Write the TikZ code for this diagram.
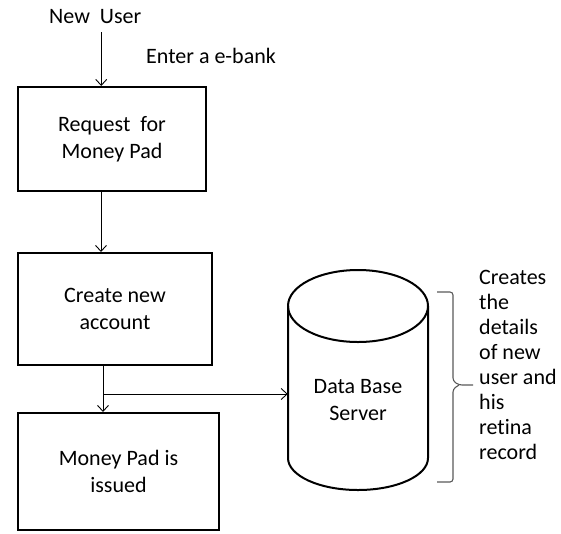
\documentclass[tikz,border=0pt]{standalone}
\usepackage{fontspec}
\setmainfont{Carlito}[Ligatures=NoCommon]
\usetikzlibrary{arrows.meta,calc}

\tikzset{
  every node/.style={font=\fontsize{22}{27}\selectfont, inner sep=0pt},
  stepbox/.style={draw, line width=2pt, align=center},
  arr/.style={line width=0.9pt, -{Straight Barb[length=6pt,width=11pt,line width=0.9pt]}},
  thick outline/.style={line width=2pt},
  brace line/.style={line width=1.1pt, draw=black!65, rounded corners=3pt},
  note/.style={font=\fontsize{22}{25}\selectfont, align=left, anchor=north west}
}

\begin{document}
\begin{tikzpicture}[x=1pt, y=-1pt]
  \useasboundingbox (0,0) rectangle (561,533);

  % entry label and caption
  \node[anchor=base west] (newuser) at (49,23) {New~ User};
  \node[anchor=base west] (ebank) at (146,63) {Enter a e-bank};

  % process steps
  \node[stepbox, minimum width=188pt, minimum height=104pt] (req) at (112,139)
    {Request~ for\\Money Pad};
  \node[stepbox, minimum width=194pt, minimum height=112pt] (create) at (115,309)
    {Create new\\account};
  \node[stepbox, minimum width=201pt, minimum height=117pt] (issued) at (118.5,471.5)
    {Money Pad is\\issued};

  % database cylinder
  \node[align=center, minimum width=140pt] (db) at (358,400) {Data Base\\Server};
  \draw[thick outline] (358,306) ellipse [x radius=70pt, y radius=36pt];
  \draw[thick outline] (288,306) -- (288,458)
    arc [start angle=180, end angle=360, x radius=70pt, y radius=32pt]
    -- (428,306);

  % connectors
  \coordinate (u1) at ([xshift=6pt, yshift=-9pt]newuser.south);
  \draw[arr] (u1) -- (u1 |- req.north);
  \coordinate (r1) at ([xshift=-11pt]req.south);
  \draw[arr] (r1) -- (r1 |- create.north);
  \coordinate (c1) at ([xshift=-12pt]create.south);
  \draw[arr] (c1) -- (c1 |- issued.north);
  \coordinate (branch) at ($(c1)+(0,28)$);
  \draw[arr] (branch) -- (branch -| db.west);

  % brace and its note
  \coordinate (bt) at (437,292);
  \coordinate (bb) at (437,482);
  \coordinate (tip) at (473,385);
  \draw[brace line] (bt) -- (453,292) -- (453,381) -- (459,385) -- (tip);
  \draw[brace line] (bb) -- (453,482) -- (453,389) -- (459,385);
  \node[note] (notes) at (479,270)
    {Creates\\the\\details\\of new\\user and\\his\\retina\\record};
\end{tikzpicture}
\end{document}
